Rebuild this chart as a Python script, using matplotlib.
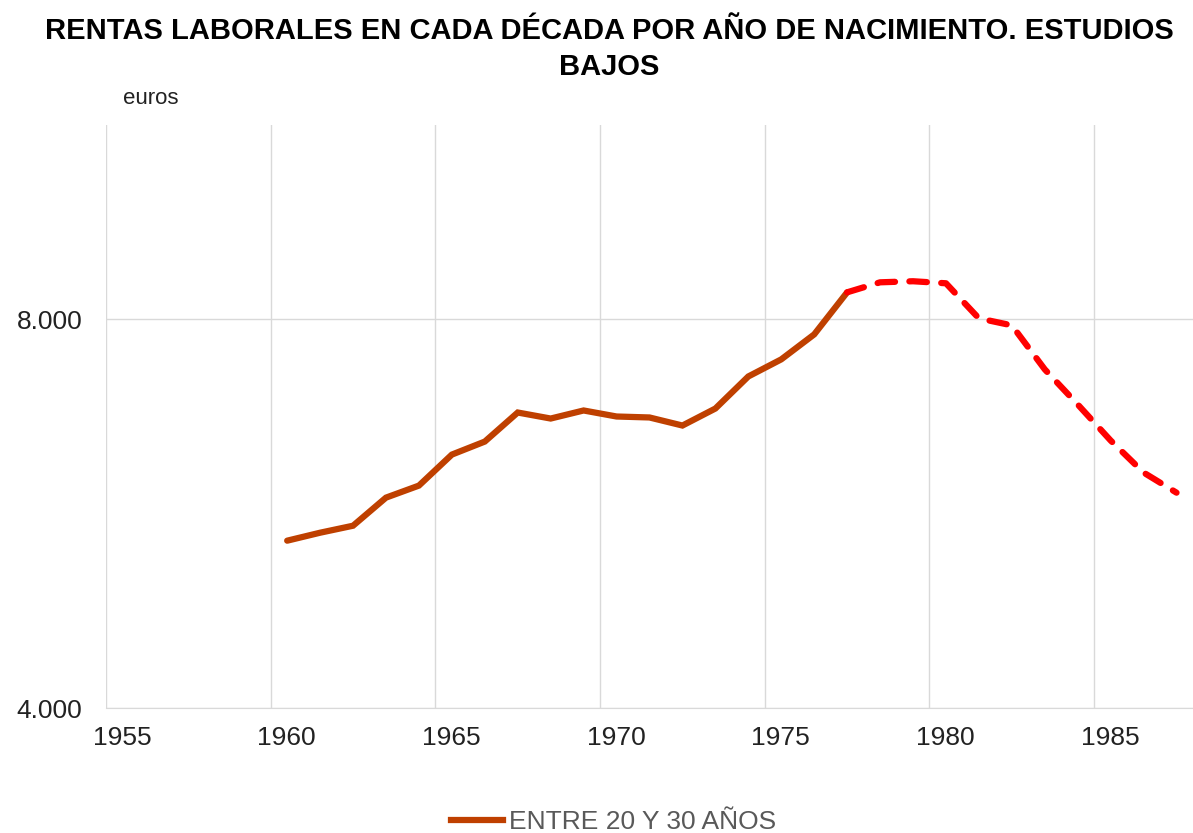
import matplotlib
matplotlib.use("Agg")
import matplotlib.pyplot as plt
import matplotlib.transforms as mtransforms
from matplotlib.ticker import FuncFormatter, MultipleLocator
from matplotlib.lines import Line2D

years = [1960.5, 1961.5, 1962.5, 1963.5, 1964.5, 1965.5, 1966.5, 1967.5, 1968.5, 1969.5,
         1970.5, 1971.5, 1972.5, 1973.5, 1974.5, 1975.5, 1976.5, 1977.5]
rentas = [5722, 5804, 5876, 6165, 6289, 6608, 6742, 7041, 6979, 7062,
          7000, 6990, 6907, 7082, 7412, 7588, 7845, 8278]

years_proj = [1977.5, 1978.5, 1979.5, 1980.5, 1981.5, 1982.5, 1983.5, 1984.5,
              1985.5, 1986.5, 1987.5]
rentas_proj = [8278, 8381, 8392, 8371, 8010, 7938, 7485, 7124, 6753, 6423, 6216]

title = "RENTAS LABORALES EN CADA DÉCADA POR AÑO DE NACIMIENTO. ESTUDIOS\nBAJOS"
legend_label = "ENTRE 20 Y 30 AÑOS"

plt.rcParams['font.family'] = ['Liberation Sans', 'DejaVu Sans']

fig = plt.figure(figsize=(11.93, 8.33), dpi=100)
ax = fig.add_axes([106/1193, 1-708/833, 1-106/1193, (708-125)/833])

ax.plot(years, rentas, color='#BF4000', lw=4.5, solid_capstyle='round',
        solid_joinstyle='miter', zorder=3)
ax.plot(years_proj, rentas_proj, color='#FF0000', lw=4.5, dashes=(2.8, 2.3),
        dash_capstyle='round', zorder=3)

ax.set_xlim(1955, 1988)
ax.set_ylim(4000, 10000)
ax.xaxis.set_major_locator(MultipleLocator(5))
ax.yaxis.set_major_locator(MultipleLocator(4000))
ax.yaxis.set_major_formatter(FuncFormatter(lambda v, p: f"{int(v):,}".replace(",", ".")))
ax.grid(True, color='#D9D9D9', lw=1)
ax.set_axisbelow(True)
for s in ['top', 'right', 'left']:
    ax.spines[s].set_visible(False)
ax.spines['bottom'].set_color('#D9D9D9')
ax.tick_params(axis='both', length=0, labelsize=19, colors='#222222')
ax.tick_params(axis='x', pad=13)
ax.tick_params(axis='y', pad=17)

offset = mtransforms.ScaledTranslation(16/100, 0, fig.dpi_scale_trans)
for lbl in ax.get_xticklabels():
    lbl.set_transform(lbl.get_transform() + offset)

fig.text(0.511, 1-49/833, title, ha='center', va='center', fontsize=21,
         fontweight='bold', linespacing=1.35)
fig.text(123/1193, 1-98/833, "euros", fontsize=16, va='center', color='#222222')

handle = Line2D([], [], color='#BF4000', lw=4.5)
fig.legend([handle], [legend_label], loc='center', bbox_to_anchor=(0.514, 1-822/833),
           frameon=False, fontsize=19, handlelength=2.0, handletextpad=0.2,
           labelcolor='#595959')

fig.savefig("out.png", dpi=100)
